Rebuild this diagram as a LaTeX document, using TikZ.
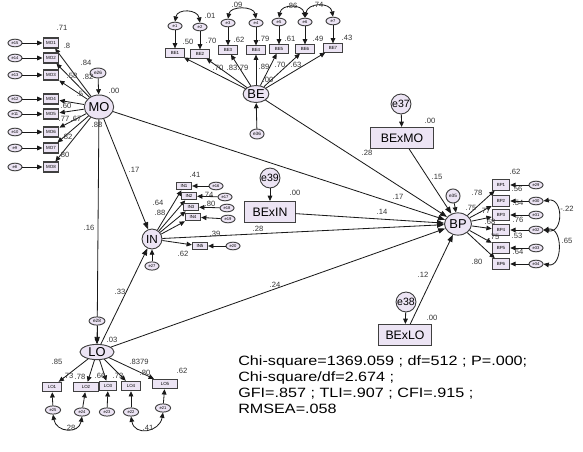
\documentclass[tikz,border=0pt]{standalone}
\usepackage{fontspec}
\setmainfont{Liberation Sans}
\usetikzlibrary{shapes.geometric,arrows.meta}
\definecolor{amosfill}{RGB}{236,228,244}
\tikzset{lat/.style={ellipse,draw=black!75,fill=amosfill,line width=0.8pt,inner sep=0pt,font=\fontsize{11}{11}\selectfont}}
\tikzset{obs/.style={rectangle,draw=black!75,fill=amosfill,line width=0.9pt,inner sep=0pt,font=\fontsize{3.8}{4}\selectfont}}
\tikzset{bigobs/.style={rectangle,draw=black!75,fill=amosfill,line width=0.9pt,inner sep=0pt,minimum width=53pt,minimum height=18pt,font=\fontsize{10.5}{11}\selectfont}}
\tikzset{err/.style={ellipse,draw=black!75,fill=amosfill,line width=0.8pt,inner sep=0pt,minimum width=12pt,minimum height=6.5pt,font=\fontsize{3.5}{4}\selectfont}}
\tikzset{bigerr/.style={circle,draw=black!75,fill=amosfill,line width=0.8pt,inner sep=0pt,minimum size=17pt,font=\fontsize{9}{9}\selectfont}}
\tikzset{reg/.style={-{Triangle[length=6pt,width=4.5pt]},line width=0.7pt,black!90}}
\tikzset{sreg/.style={-{Triangle[length=4.5pt,width=4pt]},line width=0.7pt,black!90}}
\tikzset{cov/.style={{Triangle[length=4.5pt,width=4pt]}-{Triangle[length=4.5pt,width=4pt]},line width=0.7pt,black!90}}
\tikzset{lbl/.style={inner sep=0pt,text=black!80,font=\fontsize{6.5}{7}\selectfont}}

\begin{document}
\begin{tikzpicture}[x=0.03cm,y=-0.03cm]
\useasboundingbox (0,0) rectangle (583,452);

% latent variables
\node [lat,minimum size=20.5pt] (MO) at (99,107) {MO};
\node [lat,minimum width=22pt,minimum height=14.5pt] (BE) at (256,94) {BE};
\node [lat,minimum size=17pt,font=\fontsize{10}{10}\selectfont] (IN) at (152,239) {IN};
\node [lat,minimum width=23pt,minimum height=19pt] (BP) at (458,224) {BP};
\node [lat,minimum width=29pt,minimum height=13pt] (LO) at (97,352) {LO};

% interaction terms
\node [bigobs] (BExMO) at (402,138) {BExMO};
\node [bigobs,minimum width=43pt] (BExIN) at (270,212) {BExIN};
\node [bigobs,minimum width=46pt] (BExLO) at (405,335) {BExLO};
\node [bigerr] (e37) at (401,104) {e37};
\node [bigerr] (e39) at (270,178) {e39};
\node [bigerr] (e38) at (406,302) {e38};
\foreach \from/\to in {e37/BExMO,e39/BExIN,e38/BExLO}
    \draw [sreg] (\from) -- (\to);

% MO
\foreach \i/\y/\e in {1/43/15,2/58/14,3/75/13,4/99/12,5/114/11,6/132/10,7/148/9,8/167/8}{
    \node [obs,minimum width=13.6pt,minimum height=8.5pt] (MO\i) at (51,\y) {MO\i};
    \node [err] (e\e) at (15,\y) {e\e};
    \draw [sreg] (e\e) -- (MO\i);
    \draw [sreg] (MO) -- (MO\i);
}
\node [err,minimum width=13.6pt,minimum height=8.5pt,font=\fontsize{4}{4}\selectfont] (e26) at (98,73) {e26};
\draw [sreg] (e26) -- (MO);

% BE
\foreach \i/\x/\y in {1/175/53,2/200/54,3/228/50,4/256/50,5/279/49,6/305/49,7/333/48}{
    \node [obs,minimum width=17pt,minimum height=7pt] (BE\i) at (\x,\y) {BE\i};
    \node [err] (e\i) at (\x,\y-27) {e\i};
    \draw [sreg] (e\i) -- (BE\i);
    \draw [sreg] (BE) -- (BE\i);
}
\draw [cov] (e1.north) to[out=80,in=100,looseness=1.4] (e2.north);
\draw [cov] (e3.north) to[out=80,in=100,looseness=1.2] (e4.north);
\draw [cov] (e5.north) to[out=80,in=100,looseness=1.4] (e6.north);
\draw [cov] (e6.north) to[out=80,in=100,looseness=1.4] (e7.north);
\node [err,minimum width=12pt,minimum height=8.5pt,font=\fontsize{4}{4}\selectfont] (e36) at (257,134) {e36};
\draw [sreg] (e36) -- (BE);

% IN
\foreach \i/\x/\y/\ex/\ey/\e in {1/184/186/216/186/16,2/189/196/225/197/17,3/191/207/227/208/18,4/193/217/228/219/19,5/200/246/233/246/20}{
    \node [obs,minimum width=13pt,minimum height=6.5pt] (IN\i) at (\x,\y) {IN\i};
    \node [err] (e\e) at (\ex,\ey) {e\e};
    \draw [sreg] (e\e) -- (IN\i);
    \draw [sreg] (IN) -- (IN\i);
}
\node [err,minimum width=12pt,minimum height=7pt] (e27) at (152,266) {e27};
\draw [sreg] (e27) -- (IN);

% BP
\foreach \i/\y/\e in {1/185/29,2/201/30,3/215/31,4/230/32,5/248/33,6/264/34}{
    \node [obs,minimum width=15pt,minimum height=9pt] (BP\i) at (501,\y) {BP\i};
    \node [err] (e\e) at (536,\y) {e\e};
    \draw [sreg] (e\e) -- (BP\i);
    \draw [sreg] (BP) -- (BP\i);
}
\draw [cov] (e30.east) to[out=10,in=-10,looseness=1.8] (e32.east);
\draw [cov] (e32.east) to[out=10,in=-10,looseness=1.5] (e34.east);
\node [circle,draw=black!75,fill=amosfill,line width=0.8pt,inner sep=0pt,minimum size=12pt,font=\fontsize{4}{4}\selectfont] (e35) at (453,196) {e35};
\draw [sreg] (e35) -- (BP);

% LO
\foreach \i/\x/\y/\w/\ex/\ey/\e in {1/52/387/17/53/410/25,2/86/387/21/82/412/24,3/108/386/15/107/412/23,4/131/386/17/131/412/22,5/165/384/21/163/408/21}{
    \node [obs,minimum width=\w pt,minimum height=8pt] (LO\i) at (\x,\y) {LO\i};
    \node [err,minimum width=13pt,minimum height=7pt] (e\e) at (\ex,\ey) {e\e};
    \draw [sreg] (e\e) -- (LO\i);
    \draw [sreg] (LO) -- (LO\i);
}
\draw [cov] (e25.south) to[out=-80,in=-100,looseness=1.6] (e24.south);
\draw [cov] (e22.south) to[out=-80,in=-100,looseness=1.6] (e21.south);

% structural paths
\draw [reg] (MO) -- (LO);
\node [err,minimum width=13.6pt,minimum height=7pt,font=\fontsize{4}{4}\selectfont] (e28) at (97,321) {e28};
\draw [sreg] (e28) -- (LO);
\foreach \from/\to in {MO/IN,MO/BP,BE/BP,BExMO/BP,BExIN/BP,IN/BP,LO/IN,LO/BP,BExLO/BP}
    \draw [reg] (\from) -- (\to);

% estimates
\foreach \x/\y/\t [count=\n] in {62/28/.71,67/46/.8,86/63/.84,72/76/.58,88/77/.82,114/91/.00,80/94/.5,66/106/.60,64/119/.77,76/119/.67,97/125/.88,67/137/.82,64/155/.80,
    210/16/.01,237/5/.09,292/6/.86,318/5/.74,188/42/.50,211/41/.70,239/40/.62,264/39/.79,290/39/.61,318/39/.49,347/38/.43,
    218/68/.70,232/68/.83,243/68/.79,264/67/.89,280/65/.70,296/65/.63,268/80/.00}
    \node [lbl] (est\n) at (\x,\y) {\t};
\foreach \x/\y/\t [count=\n] in {195/175/.41,208/195/.74,210/204/.80,158/203/.64,160/213/.88,258/229/.28,215/234/.39,183/254/.62,
    515/172/.62,477/193/.78,471/208/.75,485/211/.77,490/222/.68,494/237/.75,517/236/.53,518/252/.64,518/220/.76,517/189/.56,518/203/.54,477/262/.80,567/209/-.22,567/241/.65,
    57/362/.85,68/376/.73,80/377/.78,100/376/.66,118/376/.73,139/362/.8379,145/373/.80,182/371/.62,70/428/.28,148/428/.41}
    \node [lbl] (par\n) at (\x,\y) {\t};
\foreach \x/\y/\t [count=\n] in {134/170/.17,89/228/.16,398/197/.17,367/153/.28,437/177/.15,382/212/.14,120/292/.33,275/285/.24,423/275/.12,112/340/.03,430/121/.00,295/193/.00,432/318/.00}
    \node [lbl] (path\n) at (\x,\y) {\t};

% fit indices
\node [anchor=north west,align=left,inner sep=0pt,font=\fontsize{11.5}{13.6}\selectfont,xscale=1.2,transform shape] (fit) at (238,356)
    {Chi-square=1369.059 ; df=512 ; P=.000;\\Chi-square/df=2.674 ;\\GFI=.857 ; TLI=.907 ; CFI=.915 ;\\RMSEA=.058};
\end{tikzpicture}
\end{document}
